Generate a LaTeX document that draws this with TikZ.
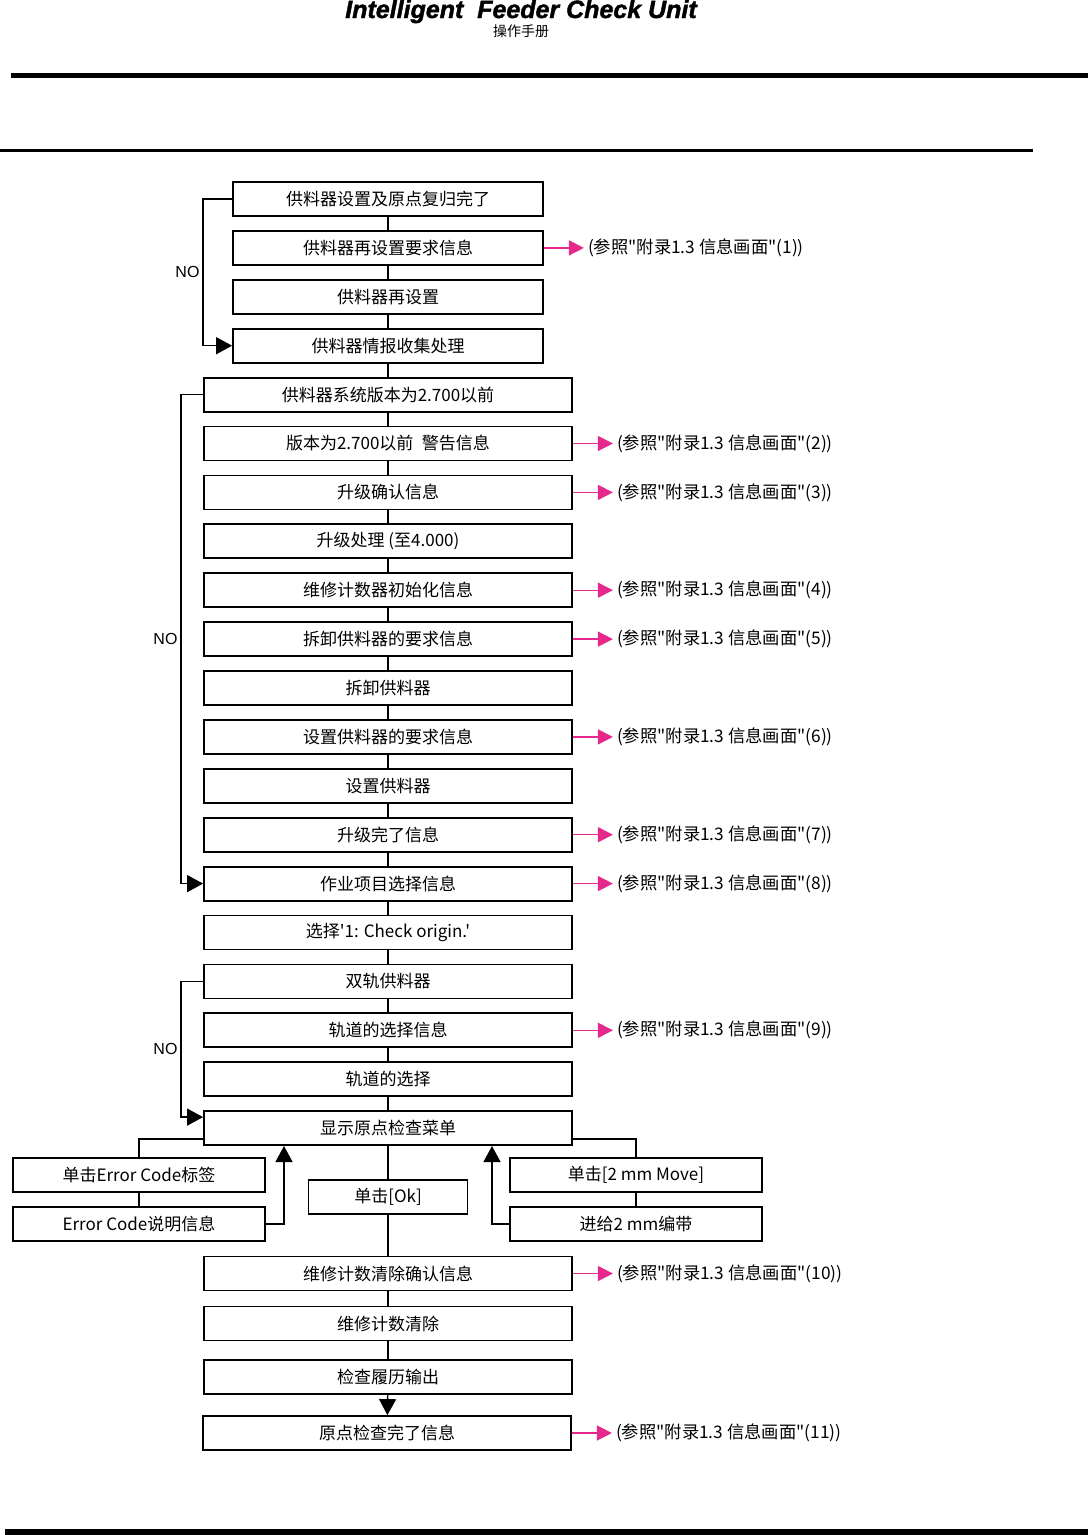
\documentclass[tikz,border=0pt]{standalone}
\usepackage{fontspec}
\setmainfont{Liberation Sans}
\newfontfamily\cjk{Noto Sans CJK SC}
\newfontfamily\titlefont{Liberation Sans Bold Italic}[FakeBold=1.6]
\usetikzlibrary{arrows.meta,positioning}
\definecolor{refpink}{RGB}{230,40,140}
\tikzset{
  box/.style    = {draw, line width=1.8pt, minimum width=368pt, minimum height=34pt,
                   inner sep=0pt, font=\cjk\fontsize{17}{19}\selectfont},
  topbox/.style = {box, minimum width=310pt},
  sidebox/.style= {box, minimum width=252pt},
  okbox/.style  = {box, minimum width=159pt},
  wire/.style   = {line width=1.3pt},
  arr/.style    = {-{Triangle[length=16pt,width=17pt]}},
  refarr/.style = {line width=1.4pt, refpink, -{Triangle[length=15pt,width=15pt]}},
  ref/.style    = {anchor=west, inner sep=4pt, font=\cjk\fontsize{17.3}{19}\selectfont},
  nolab/.style  = {font=\fontsize{16}{18}\selectfont, inner sep=3pt},
}

\begin{document}
\begin{tikzpicture}[x=1pt,y=-1pt]
  \useasboundingbox (0,0) rectangle (1088,1535);
  % header
  \node[font=\titlefont\fontsize{25}{25}\selectfont, anchor=base] (title) at (521,18)
    {Intelligent\ \ Feeder Check Unit};
  \node[font=\cjk\fontsize{14}{14}\selectfont] (sub) at (521,31) {操作手册};
  \fill (11,73) rectangle (1088,78);
  \fill (0,149) rectangle (1033,152);
  \fill (5,1529) rectangle (1088,1535);
  % main column
  \foreach \i/\txt in {1/{供料器设置及原点复归完了}, 2/{供料器再设置要求信息},
                       3/{供料器再设置}, 4/{供料器情报收集处理}}
    \node[topbox] (s\i) at (388,{199+48.9*(\i-1)}) {\txt};
  \foreach \i/\txt in {5/{供料器系统版本为2.700以前}, 6/{版本为2.700以前\enspace 警告信息},
                       7/{升级确认信息}, 8/{升级处理 (至4.000)}, 9/{维修计数器初始化信息},
                       10/{拆卸供料器的要求信息}, 11/{拆卸供料器}, 12/{设置供料器的要求信息},
                       13/{设置供料器}, 14/{升级完了信息}, 15/{作业项目选择信息},
                       16/{选择'1: Check origin.'}, 17/{双轨供料器}, 18/{轨道的选择信息},
                       19/{轨道的选择}, 20/{显示原点检查菜单}}
    \node[box] (s\i) at (388,{199+48.9*(\i-1)}) {\txt};
  \foreach \i [count=\j from 2] in {1,...,19}
    \draw[wire] (s\i) -- (s\j);
  % NO loops
  \draw[wire,arr] (s1.west) -- ++(-29,0) |- node[pos=0.25,left,nolab] (no1) {NO} (s4.west);
  \draw[wire,arr] (s5.west) -- ++(-22,0) |- node[pos=0.25,left,nolab] (no2) {NO} (s15.west);
  \draw[wire,arr] (s17.west) -- ++(-22,0) |- node[pos=0.25,left,nolab] (no3) {NO}
    ([yshift=11pt]s20.west);
  % origin check menu branches
  \node[sidebox] (e1) at (139,1175) {单击Error Code标签};
  \node[sidebox] (e2) at (139,1224) {Error Code说明信息};
  \node[okbox]   (ok) at (388,1197) {单击[Ok]};
  \node[sidebox] (m1) at (636,1175) {单击[2 mm Move]};
  \node[sidebox] (m2) at (636,1224) {进给2 mm编带};
  \draw[wire] ([yshift=-11pt]s20.west) -| (e1);
  \draw[wire] ([yshift=-11pt]s20.east) -| (m1);
  \draw[wire] (e1) -- (e2);
  \draw[wire] (m1) -- (m2);
  \draw[wire,arr] (e2.east) -| ([xshift=-104pt]s20.south);
  \draw[wire,arr] (m2.west) -| ([xshift=104pt]s20.south);
  % tail
  \node[box] (s21) at (388,1273.5) {维修计数清除确认信息};
  \node[box] (s22) at (388,1323.5) {维修计数清除};
  \node[box] (s23) at (388,1377) {检查履历输出};
  \node[box] (s24) at (387,1433) {原点检查完了信息};
  \draw[wire] (s20) -- (ok);
  \draw[wire] (ok) -- (s21);
  \draw[wire] (s21) -- (s22);
  \draw[wire] (s22) -- (s23);
  \draw[wire,arr] (s23) -- (s24);
  % references to the message screens
  \foreach \i/\n in {2/1, 6/2, 7/3, 9/4, 10/5, 12/6, 14/7, 15/8, 18/9, 21/10, 24/11}
  {
    \node[ref] (r\i) at ([xshift=40pt]s\i.east) {(参照"附录1.3 信息画面"(\n))};
    \draw[refarr] (s\i) -- (r\i);
  }
\end{tikzpicture}
\end{document}
